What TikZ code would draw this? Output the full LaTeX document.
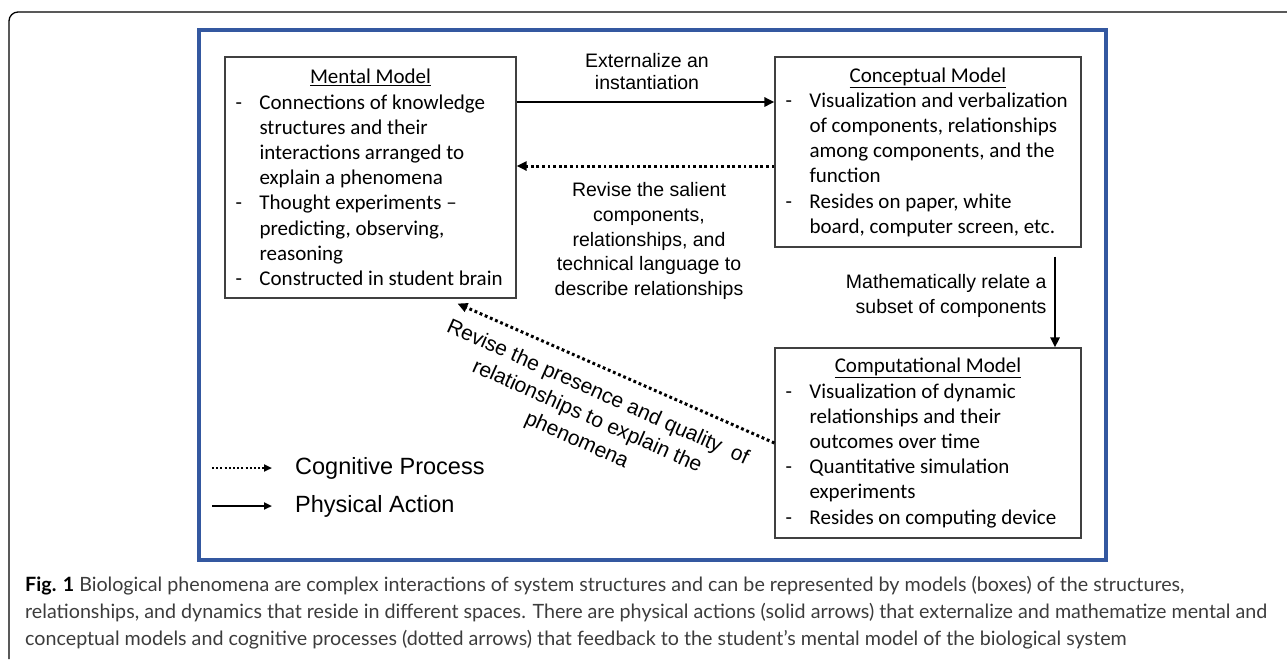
\documentclass[tikz,border=0pt]{standalone}
\usepackage{fontspec}
\setmainfont{Carlito}
\newfontfamily\arialfont{Liberation Sans}
\newfontfamily\capfont{Lato}
\usetikzlibrary{arrows.meta}
\definecolor{frameblue}{RGB}{52,88,160}
\definecolor{capgray}{RGB}{60,60,60}
\newcommand{\itm}{\makebox[24pt][l]{-}}
\newcommand{\cont}{\hspace*{24pt}}
\newcommand{\mtitle}[2]{\makebox[#1][c]{\underline{#2}}}

\begin{document}
\begin{tikzpicture}[x=1pt,y=-1pt]
	\tikzset{modelbox/.style={draw=black!75, line width=1.1pt, inner xsep=10.5pt, inner ysep=0pt,
				align=left, font=\fontsize{21pt}{25.2pt}\selectfont},
			lbl/.style={align=center, font=\arialfont\fontsize{19.5pt}{22pt}\selectfont},
			solidarr/.style={line width=2.6pt, -{Triangle[length=10pt,width=9pt]}},
			dotarr/.style={line width=3pt, dash pattern=on 2.8pt off 2.8pt, -{Triangle[length=10pt,width=9pt]}}}
	\useasboundingbox (0,0) rectangle (1287,659);
	\draw[line width=1.3pt, rounded corners=9pt] (9,659) |- (1287,12);
	\draw[frameblue, line width=3.3pt] (199,30) rectangle (1106,560);
	\node[modelbox, minimum width=291pt, minimum height=241pt] (mental) at (370.5,177.5)
		{\mtitle{270pt}{Mental Model}\\ \itm Connections of knowledge\\ \cont structures and their\\
		\cont interactions arranged to\\ \cont explain a phenomena\\ \itm Thought experiments --\\
		\cont predicting, observing,\\ \cont reasoning\\ \itm Constructed in student brain};
	\node[modelbox, minimum width=306pt, minimum height=190pt] (concept) at (928,152)
		{\mtitle{285pt}{Conceptual Model}\\ \itm Visualization and verbalization\\ \cont of components, relationships\\
		\cont among components, and the\\ \cont function\\ \itm Resides on paper, white\\
		\cont board, computer screen, etc.};
	\node[modelbox, minimum width=306pt, minimum height=190pt] (comput) at (928,443)
		{\mtitle{285pt}{Computational Model}\\ \itm Visualization of dynamic\\ \cont relationships and their\\
		\cont outcomes over time\\ \itm Quantitative simulation\\ \cont experiments\\
		\itm Resides on computing device};
	\coordinate (ext) at ([yshift=50pt]concept.west);
	\coordinate (rev) at ([yshift=-14pt]concept.west);
	\coordinate (math) at ([xshift=127pt,yshift=-9pt]concept.south);
	\coordinate (back) at ([xshift=87pt,yshift=-5pt]mental.south);
	\draw[solidarr] (mental.east |- ext) -- (ext);
	\draw[dotarr] (rev) -- (mental.east |- rev);
	\draw[solidarr] (math) -- (comput.north -| math);
	\draw[dotarr] (comput.west) -- (back);
	\node[lbl] (extlbl) at (647,72) {Externalize an\\ instantiation};
	\node[lbl, font=\arialfont\fontsize{19.5pt}{24.7pt}\selectfont] (revlbl) at (649,241)
		{Revise the salient\\ components,\\ relationships, and\\ technical language to\\ describe relationships};
	\node[lbl, align=right, anchor=east, font=\arialfont\fontsize{19.5pt}{25pt}\selectfont] (mathlbl) at (1050,296)
		{Mathematically relate a\\ subset of components};
	\node[lbl, rotate=-24, font=\arialfont\fontsize{21pt}{26pt}\selectfont] (backlbl) at (587,417)
		{Revise the presence and quality \ of\\ relationships to explain the\\ phenomena};
	\node[anchor=west, font=\arialfont\fontsize{23.5pt}{26pt}\selectfont, inner sep=4pt] (cogtxt) at (291,468) {Cognitive Process};
	\node[anchor=west, font=\arialfont\fontsize{23.5pt}{26pt}\selectfont, inner sep=4pt] (phytxt) at (291,506) {Physical Action};
	\coordinate (cogA) at (212,468);
	\coordinate (phyA) at (212,506);
	\draw[dotarr, line width=2pt, dash pattern=on 2pt off 2.2pt, shorten >=19pt, -{Triangle[length=8pt,width=7pt]}] (cogA) -- (cogtxt.west);
	\draw[solidarr, line width=2pt, shorten >=19pt, -{Triangle[length=8pt,width=7pt]}] (phyA) -- (phytxt.west);
	\node[anchor=north west, align=left, inner sep=0pt, text=capgray, font=\capfont\fontsize{19.7pt}{27pt}\selectfont] (caption) at (25,576)
		{{\color{black}\bfseries Fig. 1} Biological phenomena are complex interactions of system structures and can be represented by models (boxes) of the structures,\\
		relationships, and dynamics that reside in different spaces. There are physical actions (solid arrows) that externalize and mathematize mental and\\
		conceptual models and cognitive processes (dotted arrows) that feedback to the student’s mental model of the biological system};
\end{tikzpicture}
\end{document}
